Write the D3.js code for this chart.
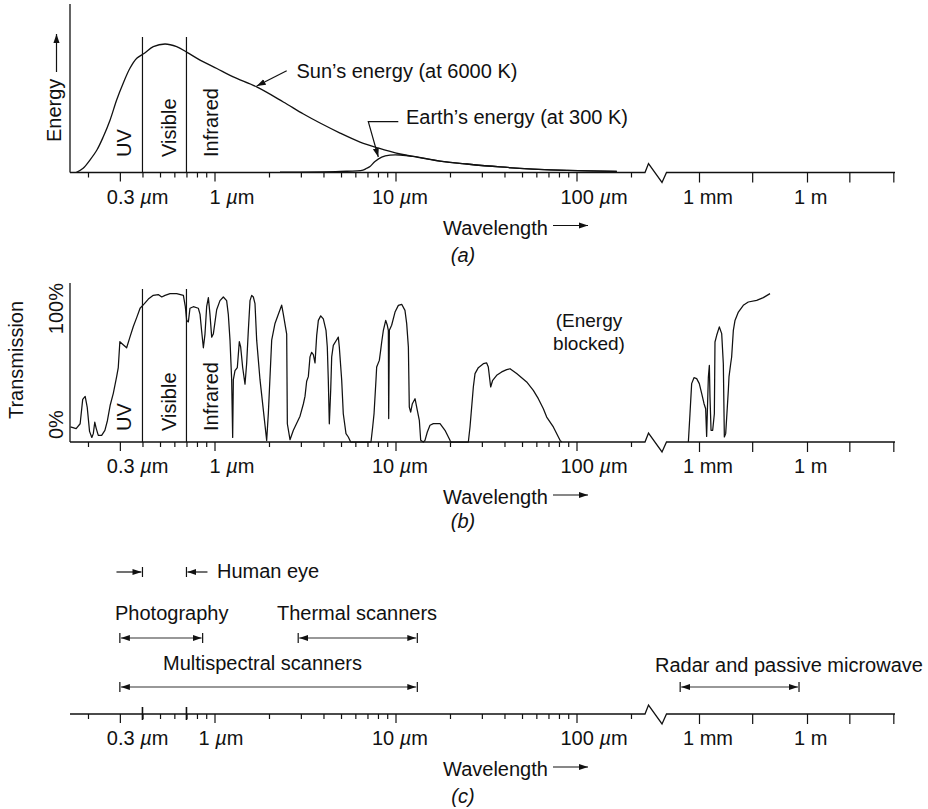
<!DOCTYPE html>
<html><head><meta charset="utf-8">
<script src="https://cdn.jsdelivr.net/npm/d3@7"></script>
<style>
body{margin:0;background:#fff;}
text{font-family:"Liberation Sans",Arial,Helvetica,sans-serif;font-size:20px;fill:#111;}
</style></head><body>
<svg id="chart" width="928" height="809"></svg>
<script>
// ---------------- DATA ----------------
// (a) Sun's energy (relative, peak = 100) vs wavelength in µm
const sunWl     = [0.172,0.188,0.205,0.224,0.243,0.265,0.288,0.313,0.341,0.372,0.410,0.459,0.533,0.618,0.705,0.832,1.03,1.27,1.71,2.40,3.10,3.83,4.94,6.37,8.0,10.6,12.5,17.6,24.8,37.8,57.5,88.6,167];
const sunEnergy = [0,3.3,9.7,17.5,27.8,40.9,56.4,69.4,81.1,88.9,92.8,97.9,100,97.9,93.5,87.5,80.9,74.4,66.6,54.9,45.5,38.5,30.7,23.7,19.1,14.4,12.5,8.9,6.6,4.3,2.7,1.6,0.8];
// (a) Earth's energy
const earthWl     = [2.30,4.94,6.61,6.93,7.23,7.70,8.39,9.32,10.6,12.5,14.6,17.6,24.8,37.8,57.5,88.6,167];
const earthEnergy = [0.2,0.8,1.9,3.3,4.7,8.6,12.0,13.5,13.6,12.6,11.0,8.9,6.6,4.3,2.7,1.6,0.8];
// (b) Atmospheric transmission (%) vs wavelength in µm
const transWl  = [0.160,0.172,0.181,0.187,0.193,0.198,0.204,0.210,0.214,0.218,0.222,0.228,0.238,0.248,0.256,0.265,0.276,0.288,0.294,0.300,0.313,0.327,0.341,0.356,0.372,0.388,0.410,0.431,0.459,0.489,0.511,0.533,0.568,0.618,0.673,0.690,0.702,0.717,0.732,0.764,0.814,0.832,0.849,0.868,0.886,0.905,0.925,0.944,0.965,0.985,1.028,1.072,1.119,1.167,1.192,1.218,1.244,1.260,1.271,1.298,1.337,1.371,1.395,1.431,1.474,1.505,1.538,1.571,1.605,1.639,1.674,1.710,1.784,1.942,1.984,2.070,2.159,2.253,2.350,2.401,2.505,2.526,2.613,2.727,2.968,3.096,3.162,3.230,3.299,3.370,3.442,3.516,3.592,3.669,3.748,3.862,3.992,4.130,4.200,4.254,4.309,4.385,4.441,4.533,4.733,4.831,4.893,5.044,5.147,5.327,5.486,5.655,7.32,7.48,7.61,7.80,7.87,8.14,8.28,8.39,8.57,8.83,9.01,9.13,9.17,9.25,9.52,9.94,10.37,10.82,11.28,11.53,11.78,11.92,12.13,12.39,12.82,13.20,13.54,13.78,14.25,14.55,14.99,15.51,16.18,17.62,18.77,20.00,20.26,25.26,25.80,26.92,27.50,28.68,30.57,31.89,32.57,33.56,34.43,36.22,38.60,41.14,42.92,46.71,53.05,57.73,61.53,65.60,68.44,74.47,81.09,82.82];
const transPct = [9.9,8.8,12,28,30,23,7,3,5.5,13,9,4.4,4.4,7.7,14,24,32,43,49,66,64,62,69,76,82,88,91,94,96.5,97,95.4,96.5,97.6,97.6,96.5,89,80,79,88,89,88,84,73,62,71,89,95,84,69,71,87,93,95.4,93,84,67,41,3,41,47,49,66,62.5,49,38,51.5,73.5,93,96.5,95.4,91,67,41,1,19,67,78,84,90,84,71,12,1.5,7.7,17,25,30,40,43,56,59,57.5,52,70,80,83,81,73.5,62.5,40.6,12,34,56,63.6,67.3,69,62.5,40.6,18.6,5.5,3.3,0,0,9.9,18.6,40.6,49.3,53.7,60.3,65.8,73.5,80,76.8,73.5,15.4,73.5,76.8,85.5,89.9,90.6,86.6,77.9,62.5,23,19.7,25.2,28.5,20.8,14.3,1.1,0,1.1,6.6,11,12.1,12.1,7.7,1.1,0,0,9.9,36.2,45,48.9,51.5,52,49.3,36.2,40.6,43.9,46.1,47.6,48.2,45,39.5,34,28.5,21.9,16.4,9.9,1.1,0];
// (b) microwave window, wavelength in mm
const microWlMm = [0.506,0.562,0.625,0.726,0.861,1.02,1.19,1.38,1.53,1.63,1.70,1.82,1.94,2.02,2.16,2.40,2.67,2.78,3.10,3.67,4.27,4.74,5.06,5.51,6.12,6.53,6.81,7.59,8.07,9.00,10.0,12.4,17.0,23.4,40.0,61.2,93.8];
const microPct  = [0,18.6,38.4,42.3,41.7,38.4,31.8,25.2,21.9,3.7,18.6,42.8,50.4,29.6,7.7,7.7,18.6,65.8,70.2,75.7,71.3,51.5,3.3,5.5,23,34,42.8,51.5,55.9,73.5,80,85.5,89.9,92.1,93.2,95,97.6];
// spectral region boundaries (µm) and labels
const regionBounds = [0.4, 0.7];
const regionLabels = ["UV", "Visible", "Infrared"];
// axis ticks
const majorTicksUm = [0.3, 1, 10, 100];
const majorTickText = ["0.3", "1", "10", "100"];
const minorTicksUm = [0.2,0.4,0.5,0.6,0.7,0.8,0.9,2,3,4,5,6,7,8,9,20,30,40,50,60,70,80,90,200];
const rightTicksMm = [1, 30, 1000, 15000, 250000];
const rightLabelMm = [1, 1000];
const rightLabelText = ["1 mm", "1 m"];
// (c) remote sensing systems
const sensorNames = ["Photography", "Thermal scanners", "Multispectral scanners", "Radar and passive microwave"];
const sensorFrom  = [0.3, 2.9, 0.3, 0.3];      // µm, µm, µm, mm
const sensorTo    = [0.86, 13.2, 13.2, 600];   // µm, µm, µm, mm
const sensorUnit  = ["um", "um", "um", "mm"];
const humanEye = [0.4, 0.7];

// ---------------- LAYOUT ----------------
const svg = d3.select("#chart");
const INK = "#111";
const xL = d3.scaleLog().domain([1, 10]).range([214.5, 395.5]);   // µm
const xR = d3.scaleLog().domain([1, 1000]).range([699, 807]);      // mm
const axisLeft0 = 70, breakX = 645, breakEnd = 666.5, axisRight1 = 895;
const yE = d3.scaleLinear().domain([0, 100]).range([172.5, 44]);
const yT = d3.scaleLinear().domain([0, 100]).range([442, 290]);
const axisY = {a: 172.5, b: 442, c: 714};

const defs = svg.append("defs");
defs.append("marker").attr("id", "ah").attr("viewBox", "0 0 10 10")
  .attr("refX", 10).attr("refY", 5).attr("markerWidth", 9).attr("markerHeight", 9)
  .attr("markerUnits", "userSpaceOnUse").attr("orient", "auto-start-reverse")
  .append("path").attr("d", "M0,1.6 L10,5 L0,8.4 Z").attr("fill", INK);

function um(t, num) {
  t.append("tspan").text(num + " ");
  t.append("tspan").attr("font-style", "italic").text("\u00b5");
  t.append("tspan").text("m");
}

const labelDxUm = [-13, -5, -23.5, -16];
const labelDxMm = [-16, -13];

function drawAxis(y, tag, tagY, opts) {
  const g = svg.append("g");
  g.append("path")
    .attr("d", `M${axisLeft0},${y}H${breakX}L${breakX + 3.5},${y - 9}L${breakX + 17},${y + 10}L${breakEnd},${y}H${axisRight1}`)
    .attr("fill", "none").attr("stroke", INK).attr("stroke-width", 1.3);
  const minor = g.append("g").attr("transform", `translate(0,${y})`)
    .call(d3.axisBottom(xL).tickValues(minorTicksUm).tickSize(5).tickFormat(""));
  const major = g.append("g").attr("transform", `translate(0,${y})`)
    .call(d3.axisBottom(xL).tickValues(majorTicksUm).tickSize(9).tickFormat(""));
  const right = g.append("g").attr("transform", `translate(0,${y})`)
    .call(d3.axisBottom(xR).tickValues(rightTicksMm).tickSize(10).tickFormat(""));
  [minor, major, right].forEach(s => {
    s.select(".domain").remove();
    s.selectAll("text").remove();
    s.selectAll("line").attr("stroke", INK).attr("stroke-width", 1.2);
  });
  if (opts && opts.eyeTicks) {
    g.selectAll("line.eye").data(humanEye).join("line").attr("class", "eye")
      .attr("x1", d => xL(d)).attr("x2", d => xL(d)).attr("y1", y - 7).attr("y2", y + 6)
      .attr("stroke", INK).attr("stroke-width", 1.6);
  }
  majorTicksUm.forEach((v, i) => {
    let dx = labelDxUm[i];
    if (opts && opts.oneDx !== undefined && v === 1) dx = opts.oneDx;
    um(g.append("text").attr("x", xL(v) + dx).attr("y", y + 31), majorTickText[i]);
  });
  rightLabelMm.forEach((v, i) => {
    g.append("text").attr("x", xR(v) + labelDxMm[i]).attr("y", y + 31).text(rightLabelText[i]);
  });
  g.append("text").attr("x", 443).attr("y", y + 62).text("Wavelength");
  g.append("line").attr("x1", 553).attr("x2", 588).attr("y1", y + 53).attr("y2", y + 53)
    .attr("stroke", INK).attr("stroke-width", 1.2).attr("marker-end", "url(#ah)");
  g.append("text").attr("x", 463).attr("y", tagY).attr("text-anchor", "middle")
    .attr("font-style", "italic").text(tag);
}

function regionLines(yTop, yBot, labelStartY) {
  svg.selectAll(null).data(regionBounds).join("line")
    .attr("x1", d => xL(d)).attr("x2", d => xL(d)).attr("y1", yTop).attr("y2", yBot)
    .attr("stroke", INK).attr("stroke-width", 1.2);
  const pos = [xL(regionBounds[0]) - 11.5, xL(regionBounds[1]) - 10, xL(regionBounds[1]) + 31.5];
  regionLabels.forEach((t, i) => {
    svg.append("text").attr("transform", `translate(${pos[i]},${labelStartY}) rotate(-90)`).text(t);
  });
}

// ---------------- PANEL (a) ----------------
svg.append("line").attr("x1", axisLeft0).attr("x2", axisLeft0).attr("y1", 4).attr("y2", axisY.a)
  .attr("stroke", INK).attr("stroke-width", 1.3);
regionLines(37, axisY.a, 157);
svg.append("text").attr("transform", "translate(61,142) rotate(-90)").text("Energy");
svg.append("line").attr("x1", 56.5).attr("x2", 56.5).attr("y1", 72).attr("y2", 34)
  .attr("stroke", INK).attr("stroke-width", 1.2).attr("marker-end", "url(#ah)");

const lineE = d3.line().x(d => xL(d[0])).y(d => yE(d[1])).curve(d3.curveCatmullRom.alpha(0.5));
svg.append("path").attr("d", lineE(d3.zip(sunWl, sunEnergy)))
  .attr("fill", "none").attr("stroke", INK).attr("stroke-width", 1.3);
svg.append("path").attr("d", lineE(d3.zip(earthWl, earthEnergy)))
  .attr("fill", "none").attr("stroke", INK).attr("stroke-width", 1.3);

svg.append("text").attr("x", 296.5).attr("y", 77.5).text("Sun\u2019s energy (at 6000 K)");
svg.append("line").attr("x1", 286.7).attr("y1", 70.7).attr("x2", 256.7).attr("y2", 86)
  .attr("stroke", INK).attr("stroke-width", 1.2).attr("marker-end", "url(#ah)");
svg.append("text").attr("x", 406).attr("y", 124).text("Earth\u2019s energy (at 300 K)");
svg.append("path").attr("d", "M398.3,121.7H368.3L378.3,157")
  .attr("fill", "none").attr("stroke", INK).attr("stroke-width", 1.2).attr("marker-end", "url(#ah)");

drawAxis(axisY.a, "(a)", 262);

// ---------------- PANEL (b) ----------------
svg.append("line").attr("x1", axisLeft0).attr("x2", axisLeft0).attr("y1", 283).attr("y2", axisY.b)
  .attr("stroke", INK).attr("stroke-width", 1.3);
regionLines(289, axisY.b, 431);
svg.append("text").attr("transform", "translate(23,360) rotate(-90)").attr("text-anchor", "middle").text("Transmission");
svg.append("text").attr("transform", `translate(63,${yT(100) - 7}) rotate(-90)`).attr("text-anchor", "end").text("100%");
svg.append("text").attr("transform", `translate(63,${yT(0) - 3}) rotate(-90)`).text("0%");

const lineT = d3.line().x(d => xL(d[0])).y(d => yT(d[1]));
svg.append("path").attr("d", lineT(d3.zip(transWl, transPct)))
  .attr("fill", "none").attr("stroke", INK).attr("stroke-width", 1.25).attr("stroke-linejoin", "round");
const lineM = d3.line().x(d => xR(d[0])).y(d => yT(d[1]));
svg.append("path").attr("d", lineM(d3.zip(microWlMm, microPct)))
  .attr("fill", "none").attr("stroke", INK).attr("stroke-width", 1.25).attr("stroke-linejoin", "round");

svg.append("text").attr("x", 589).attr("y", 327).attr("text-anchor", "middle")
  .style("font-size", "19px").text("(Energy");
svg.append("text").attr("x", 589).attr("y", 349.5).attr("text-anchor", "middle")
  .style("font-size", "19px").text("blocked)");

drawAxis(axisY.b, "(b)", 528);

// ---------------- PANEL (c) ----------------
drawAxis(axisY.c, "(c)", 803, {eyeTicks: true, oneDx: -16});

const eyeY = 572;
svg.append("line").attr("x1", xL(humanEye[0])).attr("x2", xL(humanEye[0])).attr("y1", eyeY - 5).attr("y2", eyeY + 5).attr("stroke", INK).attr("stroke-width", 1.2);
svg.append("line").attr("x1", xL(humanEye[1])).attr("x2", xL(humanEye[1])).attr("y1", eyeY - 5).attr("y2", eyeY + 5).attr("stroke", INK).attr("stroke-width", 1.2);
svg.append("line").attr("x1", xL(humanEye[0]) - 26).attr("x2", xL(humanEye[0]) - 1).attr("y1", eyeY).attr("y2", eyeY)
  .attr("stroke", INK).attr("stroke-width", 1.2).attr("marker-end", "url(#ah)");
svg.append("line").attr("x1", xL(humanEye[1]) + 21).attr("x2", xL(humanEye[1]) + 1).attr("y1", eyeY).attr("y2", eyeY)
  .attr("stroke", INK).attr("stroke-width", 1.2).attr("marker-end", "url(#ah)");
svg.append("text").attr("x", xL(humanEye[1]) + 30.5).attr("y", 578).text("Human eye");

const sensorLineY = [638, 638, 687, 687];
const sensorTextPos = [[115, 620], [277, 620], [163, 670], [655, 672]];
sensorNames.forEach((name, i) => {
  const sx = sensorUnit[i] === "mm" ? xR : xL;
  const x1 = sx(sensorFrom[i]), x2 = sx(sensorTo[i]), y = sensorLineY[i];
  const g = svg.append("g");
  g.append("line").attr("x1", x1).attr("x2", x1).attr("y1", y - 5).attr("y2", y + 5).attr("stroke", INK).attr("stroke-width", 1.2);
  g.append("line").attr("x1", x2).attr("x2", x2).attr("y1", y - 5).attr("y2", y + 5).attr("stroke", INK).attr("stroke-width", 1.2);
  g.append("line").attr("x1", x1 + 1).attr("x2", x2 - 1).attr("y1", y).attr("y2", y)
    .attr("stroke", "#333").attr("stroke-width", 1.1)
    .attr("marker-start", "url(#ah)").attr("marker-end", "url(#ah)");
  g.append("text").attr("x", sensorTextPos[i][0]).attr("y", sensorTextPos[i][1]).text(name);
});
</script>
</body></html>
